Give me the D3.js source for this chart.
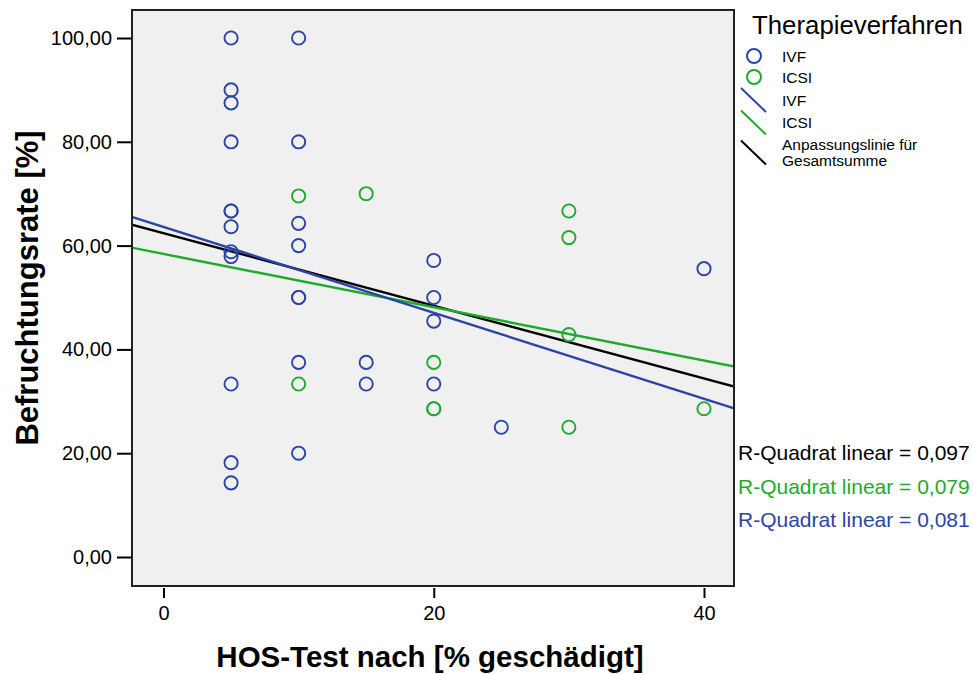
<!DOCTYPE html>
<html>
<head>
<meta charset="utf-8">
<script src="https://cdn.jsdelivr.net/npm/d3@7"></script>
<style>
  html, body { margin: 0; padding: 0; background: #fff; }
  svg text { font-family: "Liberation Sans", Arial, sans-serif; }
</style>
</head>
<body>
<svg id="chart" width="973" height="674"></svg>
<script>
// HOS-Test vs. Befruchtungsrate, grouped by Therapieverfahren
const ivfX = [5, 5, 5, 5, 5, 5, 5, 5, 5, 5, 5, 5,
              10, 10, 10, 10, 10, 10, 10, 10,
              15, 15, 20, 20, 20, 20, 25, 40];
const ivfY = [100, 90, 87.5, 80, 66.67, 66.67, 63.64, 58.82, 57.89, 33.33, 18.18, 14.29,
              100, 80, 64.29, 60, 50, 50, 37.5, 20,
              37.5, 33.33, 57.14, 50, 45.45, 33.33, 25, 55.56];
const icsiX = [10, 10, 15, 20, 20, 20, 30, 30, 30, 30, 40];
const icsiY = [69.57, 33.33, 70, 37.5, 28.57, 28.57, 66.67, 61.54, 42.86, 25, 28.57];

// linear fit lines (intercept / slope) and their R² labels
const fitNames = ["Gesamt", "ICSI", "IVF"];
const fitIntercepts = [62.4, 58.4, 63.6];
const fitSlopes = [-0.70, -0.514, -0.828];
const r2Labels = ["R-Quadrat linear = 0,097", "R-Quadrat linear = 0,079", "R-Quadrat linear = 0,081"];

const xTicks = [0, 20, 40];
const yTicks = [0, 20, 40, 60, 80, 100];

const BLUE = "#2b45a6", GREEN = "#1faa2c", BLACK = "#000";
const fitColors = [BLACK, GREEN, BLUE];

const svg = d3.select("#chart");
const frame = { left: 132, right: 734, top: 10, bottom: 586 };

const x = d3.scaleLinear().domain([0, 40]).range([163.5, 704]);
const y = d3.scaleLinear().domain([0, 100]).range([557, 38]);
const xMin = x.invert(frame.left), xMax = x.invert(frame.right);

// plot area
svg.append("rect")
  .attr("x", frame.left).attr("y", frame.top)
  .attr("width", frame.right - frame.left).attr("height", frame.bottom - frame.top)
  .attr("fill", "#f0f0f0").attr("stroke", "#222").attr("stroke-width", 2);

svg.append("clipPath").attr("id", "plotclip")
  .append("rect").attr("x", frame.left + 1).attr("y", frame.top + 1)
  .attr("width", frame.right - frame.left - 2).attr("height", frame.bottom - frame.top - 2);

// axes
const fmt = d => d.toFixed(2).replace(".", ",");
const yAxis = svg.append("g").attr("transform", `translate(${frame.left},0)`)
  .call(d3.axisLeft(y).tickValues(yTicks).tickFormat(fmt).tickSize(15).tickPadding(5));
const xAxis = svg.append("g").attr("transform", `translate(0,${frame.bottom + 2})`)
  .call(d3.axisBottom(x).tickValues(xTicks).tickFormat(d3.format("d")).tickSize(10).tickPadding(8));
[yAxis, xAxis].forEach(g => {
  g.select(".domain").remove();
  g.selectAll(".tick line").attr("stroke", "#000").attr("stroke-width", 2);
  g.selectAll(".tick text").attr("fill", "#000").style("font-size", "20px");
});

// axis titles
svg.append("text")
  .attr("x", 430).attr("y", 667)
  .attr("text-anchor", "middle")
  .style("font-size", "29.5px").style("font-weight", "bold")
  .text("HOS-Test nach [% geschädigt]");
svg.append("text")
  .attr("transform", "translate(38,288) rotate(-90)")
  .attr("text-anchor", "middle")
  .style("font-size", "31px").style("font-weight", "bold")
  .text("Befruchtungsrate [%]");

// fit lines
const plot = svg.append("g").attr("clip-path", "url(#plotclip)");
fitNames.forEach((n, i) => {
  const f = v => fitIntercepts[i] + fitSlopes[i] * v;
  plot.append("line")
    .attr("x1", x(xMin)).attr("y1", y(f(xMin)))
    .attr("x2", x(xMax)).attr("y2", y(f(xMax)))
    .attr("stroke", fitColors[i]).attr("stroke-width", 2.4);
});

// points
function drawPoints(xs, ys, color) {
  plot.selectAll(null).data(xs.map((v, i) => [v, ys[i]])).enter()
    .append("circle")
    .attr("cx", d => x(d[0])).attr("cy", d => y(d[1]))
    .attr("r", 6.6)
    .attr("fill", "none").attr("stroke", color).attr("stroke-width", 1.9);
}
drawPoints(ivfX, ivfY, BLUE);
drawPoints(icsiX, icsiY, GREEN);

// R² labels
const r2Colors = [BLACK, GREEN, BLUE];
r2Labels.forEach((t, i) => {
  svg.append("text")
    .attr("x", 738).attr("y", 460 + i * 33.5)
    .attr("fill", r2Colors[i])
    .style("font-size", "21px")
    .text(t);
});

// legend
const lg = svg.append("g");
lg.append("text").attr("x", 752).attr("y", 34).style("font-size", "25.8px").text("Therapieverfahren");
const legendItems = [
  { type: "circle", color: BLUE, label: ["IVF"], cy: 56 },
  { type: "circle", color: GREEN, label: ["ICSI"], cy: 77 },
  { type: "line", color: BLUE, label: ["IVF"], cy: 100 },
  { type: "line", color: GREEN, label: ["ICSI"], cy: 122.5 },
  { type: "line", color: BLACK, label: ["Anpassungslinie für", "Gesamtsumme"], cy: 152.5 }
];
legendItems.forEach(it => {
  if (it.type === "circle") {
    lg.append("circle").attr("cx", 754).attr("cy", it.cy).attr("r", 7)
      .attr("fill", "none").attr("stroke", it.color).attr("stroke-width", 2);
  } else {
    lg.append("line").attr("x1", 741).attr("y1", it.cy - 12).attr("x2", 766).attr("y2", it.cy + 12)
      .attr("stroke", it.color).attr("stroke-width", 2);
  }
  const n = it.label.length;
  it.label.forEach((l, j) => {
    lg.append("text").attr("x", 782)
      .attr("y", it.cy + 5.5 + (j - (n - 1) / 2) * 16)
      .style("font-size", "15.5px").text(l);
  });
});
</script>
</body>
</html>
